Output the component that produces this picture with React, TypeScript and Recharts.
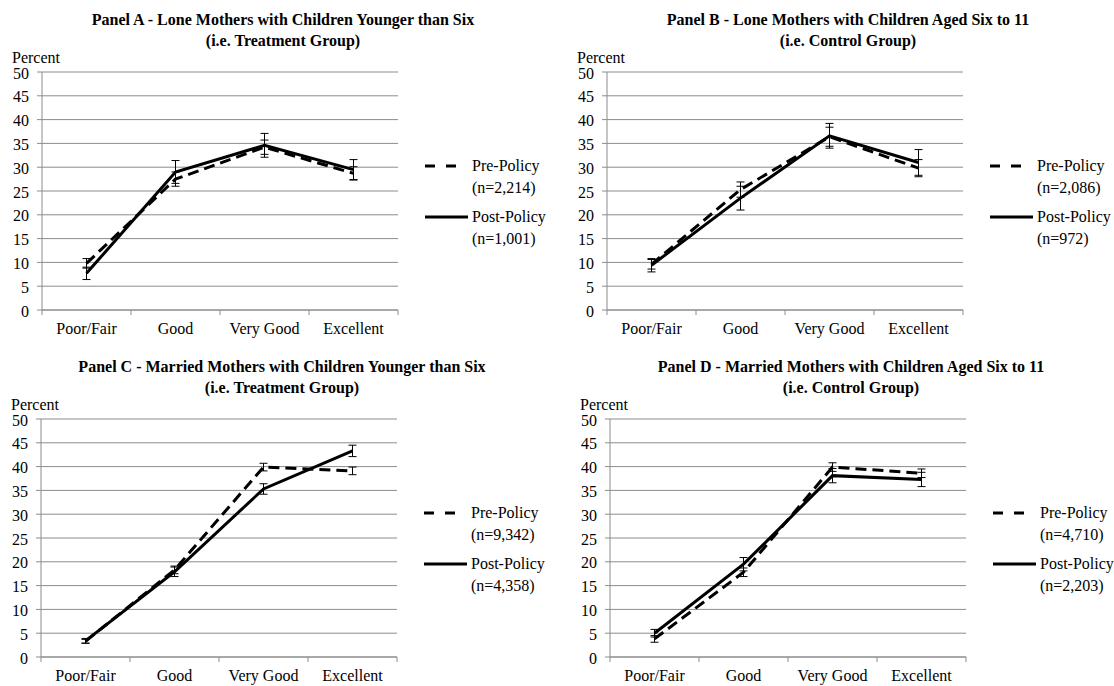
import React from 'react';
import { LineChart, Line, XAxis, YAxis, CartesianGrid, ErrorBar } from 'recharts';

const categories = ['Poor/Fair', 'Good', 'Very Good', 'Excellent'];
const yTicks = [0, 5, 10, 15, 20, 25, 30, 35, 40, 45, 50];

// Panel A - lone mothers, children < 6
const aPre = [9.8, 27.5, 34.2, 28.7];
const aPreErr = [1.0, 1.5, 1.5, 1.4];
const aPost = [7.7, 29.0, 34.6, 29.5];
const aPostErr = [1.3, 2.4, 2.5, 2.1];

// Panel B - lone mothers, children 6-11
const bPre = [9.6, 25.3, 36.4, 29.8];
const bPreErr = [1.0, 1.6, 2.0, 1.8];
const bPost = [9.4, 23.5, 36.6, 31.0];
const bPostErr = [1.4, 2.5, 2.6, 2.7];

// Panel C - married mothers, children < 6
const cPre = [3.3, 18.3, 39.9, 39.1];
const cPreErr = [0.4, 0.8, 0.8, 0.8];
const cPost = [3.4, 17.9, 35.3, 43.3];
const cPostErr = [0.5, 1.0, 1.1, 1.2];

// Panel D - married mothers, children 6-11
const dPre = [3.8, 17.8, 39.9, 38.6];
const dPreErr = [0.7, 0.9, 0.9, 0.9];
const dPost = [5.0, 19.5, 38.1, 37.3];
const dPostErr = [0.8, 1.4, 1.5, 1.5];

const FONT = "'Liberation Serif', 'DejaVu Serif', 'Times New Roman', Times, serif";
const GRID = '#8c8c8c';
const HALF_BAND = 44.5;

const buildRows = (pre: number[], preErr: number[], post: number[], postErr: number[]) =>
  categories.map((cat, i) => ({
    cat,
    pre: pre[i],
    preErr: preErr[i],
    post: post[i],
    postErr: postErr[i]
  }));

const panels = [
  {
    key: 'A',
    left: 0,
    top: 0,
    title: 'Panel A - Lone Mothers with Children Younger than Six',
    subtitle: '(i.e. Treatment Group)',
    preN: '(n=2,214)',
    postN: '(n=1,001)',
    rows: buildRows(aPre, aPreErr, aPost, aPostErr)
  },
  {
    key: 'B',
    left: 565,
    top: 0,
    title: 'Panel B - Lone Mothers with Children Aged Six to 11',
    subtitle: '(i.e. Control Group)',
    preN: '(n=2,086)',
    postN: '(n=972)',
    rows: buildRows(bPre, bPreErr, bPost, bPostErr)
  },
  {
    key: 'C',
    left: -1,
    top: 347,
    title: 'Panel C - Married Mothers with Children Younger than Six',
    subtitle: '(i.e. Treatment Group)',
    preN: '(n=9,342)',
    postN: '(n=4,358)',
    rows: buildRows(cPre, cPreErr, cPost, cPostErr)
  },
  {
    key: 'D',
    left: 568,
    top: 347,
    title: 'Panel D - Married Mothers with Children Aged Six to 11',
    subtitle: '(i.e. Control Group)',
    preN: '(n=4,710)',
    postN: '(n=2,203)',
    rows: buildRows(dPre, dPreErr, dPost, dPostErr)
  }
];

// category label at the point, tick marks at the band edges (Excel style)
const CategoryTick = ({ x, y, payload, index, visibleTicksCount }: any) => {
  const last = index === visibleTicksCount - 1;
  return (
    <g>
      <line x1={x - HALF_BAND} x2={x - HALF_BAND} y1={y - 5} y2={y} stroke={GRID} strokeWidth={1} />
      {last && <line x1={x + HALF_BAND} x2={x + HALF_BAND} y1={y - 5} y2={y} stroke={GRID} strokeWidth={1} />}
      <text x={x} y={y + 19} textAnchor="middle" fontFamily={FONT} fontSize={16} fill="#000">
        {payload.value}
      </text>
    </g>
  );
};

const textStyle: React.CSSProperties = {
  position: 'absolute',
  fontFamily: FONT,
  fontSize: 16,
  lineHeight: '22px',
  color: '#000',
  whiteSpace: 'nowrap'
};

function Panel({ p }: { p: (typeof panels)[number] }) {
  return (
    <div style={{ position: 'absolute', left: p.left, top: p.top, width: 549, height: 345 }}>
      <div
        style={{
          ...textStyle,
          left: 0,
          width: 566,
          top: 9,
          textAlign: 'center',
          fontWeight: 'bold',
          lineHeight: '21px'
        }}
      >
        <div>{p.title}</div>
        <div>{p.subtitle}</div>
      </div>
      <div style={{ ...textStyle, left: 12, top: 50, lineHeight: '15px' }}>Percent</div>

      <div style={{ position: 'absolute', left: 0, top: 0 }}>
        <LineChart width={410} height={340} data={p.rows} margin={{ top: 72, right: 12, left: 0, bottom: 0 }}>
          <CartesianGrid vertical={false} stroke={GRID} strokeWidth={1} />
          <XAxis
            dataKey="cat"
            height={30}
            padding={{ left: HALF_BAND, right: HALF_BAND }}
            axisLine={{ stroke: GRID }}
            tickLine={false}
            tickSize={5}
            tickMargin={0}
            interval={0}
            tick={<CategoryTick />}
          />
          <YAxis
            width={42}
            domain={[0, 50]}
            ticks={yTicks}
            interval={0}
            axisLine={{ stroke: GRID }}
            tickLine={{ stroke: GRID }}
            tickSize={5}
            tickMargin={8}
            tick={{ fontFamily: FONT, fontSize: 16, fill: '#000', dy: 1 }}
          />
          <Line
            type="linear"
            dataKey="pre"
            stroke="#000"
            strokeWidth={3}
            strokeDasharray="11 6"
            dot={false}
            isAnimationActive={false}
          >
            <ErrorBar dataKey="preErr" width={4} stroke="#000" strokeWidth={1} direction="y" />
          </Line>
          <Line
            type="linear"
            dataKey="post"
            stroke="#000"
            strokeWidth={3}
            dot={false}
            isAnimationActive={false}
          >
            <ErrorBar dataKey="postErr" width={4} stroke="#000" strokeWidth={1} direction="y" />
          </Line>
        </LineChart>
      </div>

      {/* legend */}
      <svg style={{ position: 'absolute', left: 420, top: 150 }} width={50} height={80}>
        <line x1={5} x2={36} y1={16} y2={16} stroke="#000" strokeWidth={3} strokeDasharray="10 11" />
        <line x1={5} x2={48} y1={67} y2={67} stroke="#000" strokeWidth={3} />
      </svg>
      <div style={{ ...textStyle, left: 472, top: 155 }}>
        <div>Pre-Policy</div>
        <div>{p.preN}</div>
      </div>
      <div style={{ ...textStyle, left: 472, top: 206 }}>
        <div>Post-Policy</div>
        <div>{p.postN}</div>
      </div>
    </div>
  );
}

export default function App() {
  return (
    <div
      style={{
        position: 'absolute',
        left: 0,
        top: 0,
        width: 1114,
        height: 686,
        overflow: 'hidden',
        background: '#fff'
      }}
    >
      {panels.map((p) => (
        <Panel key={p.key} p={p} />
      ))}
    </div>
  );
}
